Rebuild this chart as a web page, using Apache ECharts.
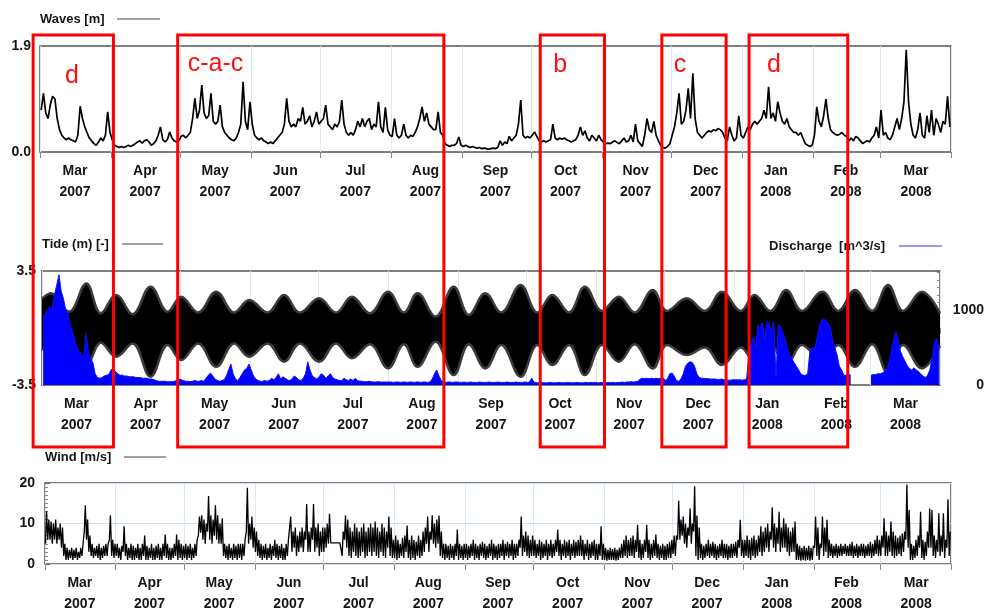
<!DOCTYPE html>
<html>
<head>
<meta charset="utf-8">
<script src="https://cdn.jsdelivr.net/npm/echarts@6/dist/echarts.min.js"></script>
<style>
html, body { margin: 0; padding: 0; background: #fff; }
#chart { width: 987px; height: 615px; }
</style>
</head>
<body>
<div id="chart"></div>
<script>
// Month labels along the time axes (Mar 2007 .. Mar 2008)
const monthNames = ['Mar', 'Apr', 'May', 'Jun', 'Jul', 'Aug', 'Sep', 'Oct', 'Nov', 'Dec', 'Jan', 'Feb', 'Mar'];
const monthYears = ['2007', '2007', '2007', '2007', '2007', '2007', '2007', '2007', '2007', '2007', '2008', '2008', '2008'];

// Daily significant wave height [m], 1 Mar 2007 .. 31 Mar 2008 (one row per month)
const waves = [
  0.75,1.05,0.7,0.6,0.85,1.0,0.95,0.6,0.4,0.3,0.25,0.22,0.25,0.22,0.2,0.18,0.3,0.82,0.6,0.45,0.35,0.25,0.2,0.15,0.12,0.18,0.25,0.2,0.3,0.72,0.35,
  0.22,0.12,0.1,0.08,0.1,0.08,0.1,0.12,0.1,0.12,0.15,0.18,0.2,0.16,0.2,0.22,0.18,0.12,0.15,0.2,0.3,0.45,0.22,0.18,0.22,0.36,0.25,0.2,0.18,0.2,
  0.28,0.3,0.25,0.3,0.35,0.6,0.96,0.6,0.75,1.2,0.7,0.6,0.65,1.05,0.55,0.5,0.55,0.84,0.45,0.35,0.3,0.25,0.22,0.2,0.25,0.35,0.5,1.26,0.55,0.4,0.9,
  0.5,0.3,0.25,0.22,0.25,0.2,0.18,0.15,0.18,0.15,0.2,0.25,0.3,0.35,0.5,0.96,0.55,0.45,0.5,0.45,0.6,0.55,0.8,0.5,0.55,0.65,0.45,0.55,0.72,0.5,
  0.55,0.6,0.84,0.5,0.45,0.4,0.5,0.45,0.55,0.93,0.5,0.35,0.3,0.35,0.3,0.4,0.55,0.45,0.6,0.45,0.55,0.6,0.4,0.5,0.45,0.9,0.45,0.35,0.8,0.4,0.3,
  0.28,0.6,0.3,0.25,0.3,0.5,0.3,0.25,0.3,0.28,0.35,0.45,0.6,0.81,0.55,0.7,0.5,0.45,0.4,0.4,0.72,0.35,0.3,0.15,0.12,0.1,0.12,0.12,0.15,0.27,0.12,
  0.1,0.12,0.1,0.08,0.1,0.08,0.07,0.08,0.06,0.07,0.06,0.05,0.06,0.07,0.06,0.08,0.2,0.12,0.18,0.15,0.28,0.2,0.25,0.3,0.5,0.93,0.3,0.25,0.28,0.25,
  0.3,0.36,0.28,0.2,0.18,0.2,0.18,0.2,0.22,0.5,0.25,0.22,0.25,0.23,0.25,0.22,0.2,0.18,0.2,0.22,0.3,0.45,0.3,0.38,0.25,0.2,0.3,0.25,0.2,0.3,0.22,
  0.18,0.15,0.16,0.15,0.18,0.2,0.17,0.15,0.2,0.25,0.18,0.2,0.3,0.18,0.5,0.2,0.15,0.1,0.3,0.6,0.4,0.35,0.55,0.3,0.2,0.12,0.08,0.07,0.1,0.15,
  0.3,0.45,0.7,1.05,0.5,0.55,0.75,1.14,0.6,1.41,0.6,0.35,0.3,0.25,0.3,0.35,0.38,0.36,0.4,0.38,0.42,0.4,0.35,0.25,0.2,0.45,0.3,0.2,0.25,0.65,0.3,
  0.25,0.35,0.45,0.4,0.5,0.55,0.5,0.55,0.6,0.75,0.6,1.17,0.6,0.7,0.55,0.9,0.7,0.55,0.5,0.6,0.45,0.4,0.35,0.35,0.3,0.35,0.25,0.15,0.12,0.1,0.12,
  0.3,0.81,0.55,0.45,0.65,0.95,0.6,0.4,0.35,0.32,0.3,0.32,0.35,0.3,0.28,0.2,0.25,0.2,0.28,0.25,0.2,0.15,0.18,0.2,0.18,0.25,0.3,0.45,0.25,
  0.75,0.3,0.35,0.25,0.22,0.3,0.45,0.6,0.4,0.6,0.9,1.83,0.9,0.5,0.3,0.25,0.4,0.7,0.3,0.25,0.65,0.35,0.75,0.3,0.6,0.5,0.35,0.55,0.5,1.0,0.45
];

// Daily river discharge [m^3/s]; null = no record
const discharge = [
  900,950,1000,1050,1000,1200,1330,1470,1250,1150,1000,950,800,700,600,500,450,400,380,690,450,350,300,150,100,90,100,120,130,140,200,
  220,180,150,130,130,120,120,110,110,110,100,100,100,90,90,90,80,80,70,60,50,50,50,50,45,45,45,50,60,80,
  70,60,50,50,45,50,60,50,50,60,50,90,130,160,120,80,60,50,60,70,120,200,280,150,80,60,100,150,200,220,280,
  200,120,80,60,50,50,60,50,60,90,70,100,150,80,110,90,70,60,80,120,100,70,60,90,150,310,200,120,100,80,
  110,150,130,90,120,150,100,80,70,60,60,90,70,60,80,60,90,60,50,50,45,45,50,45,40,40,45,40,40,40,40,
  40,40,35,40,40,35,40,40,35,40,40,35,40,40,35,40,40,35,40,80,150,200,120,60,40,35,40,40,35,40,40,
  35,35,40,35,35,40,35,35,35,40,35,35,35,40,35,35,35,40,35,35,35,40,35,35,35,40,35,35,35,40,
  35,40,90,40,30,30,35,30,30,30,35,30,30,30,35,30,30,30,35,30,30,30,35,30,30,30,35,30,35,30,35,
  30,30,35,30,30,35,30,35,30,35,35,40,35,40,40,45,40,45,50,80,90,85,90,85,90,85,90,85,90,100,
  60,80,150,160,120,60,50,80,150,250,290,310,300,250,150,100,90,90,85,85,80,80,80,75,75,80,70,70,65,65,70,
  70,70,70,65,70,80,400,550,650,500,800,750,840,600,850,820,700,850,100,800,780,700,600,500,400,350,300,250,200,150,130,
  130,150,450,500,480,600,750,860,880,860,820,780,600,500,400,250,200,130,130,150,130,null,null,null,null,null,null,null,null,
  130,140,140,150,150,160,180,220,300,450,600,710,600,450,380,320,260,220,200,230,200,180,150,120,100,130,200,350,550,620,500
];

// Tide envelope: turning points of the spring-neap cycle (days after 1 Mar 2007), high and low water [m]
const tideDay = [0,4,12,19.6,26,32.8,40,48,55.6,61.5,69,77,85,91.6,99.7,107,114,122.5,130,137,
  145,153,160,166,174,182,188.7,196,203,211.6,219,225.6,233,240,247.6,255,262,270,276.3,285,
  293,300.6,309,315,322,329,336,345,352,359.4,367,374,380.7,389,397];
const tideHigh = [1.8,2.13,1.0,2.74,0.9,2.03,0.85,2.54,1.0,1.92,0.95,2.23,0.95,1.72,0.95,2.03,0.95,1.82,0.95,1.92,
  0.9,2.23,0.95,2.13,0.7,2.54,0.8,2.13,0.95,2.64,0.95,2.03,0.95,2.54,1.05,1.92,0.95,2.33,1.05,1.82,
  1.05,2.23,1.05,2.03,1.05,2.33,1.05,2.23,1.05,2.33,1.05,2.64,1.05,2.23,0.9];
const tideLow = [-1.25,-1.6,-0.9,-2.27,-0.9,-1.76,-0.95,-2.99,-1.05,-1.97,-0.95,-2.38,-0.95,-1.76,-0.95,-2.07,-0.95,-2.07,-0.95,-1.86,
  -1.0,-2.48,-1.0,-2.38,-0.85,-2.89,-1.0,-2.48,-1.05,-2.99,-1.05,-2.27,-1.05,-2.89,-1.05,-2.07,-1.0,-2.48,-1.05,-1.66,
  -1.2,-2.27,-1.2,-2.07,-1.05,-2.27,-1.05,-2.07,-1.05,-2.38,-1.0,-2.78,-1.05,-2.48,-1.1];

// Daily wind speed range [m/s]: lowest and highest value of each day
const windLow = [
  5,6,6,5,6,5,6,4,2,1,1,1.5,1,1.5,1,1.5,2,8,6,3,2,1.5,2,1.5,1,1.5,2,2,6,2,1.5,
  2,1.5,1,3,2,1,1.5,1,1,1.5,1,1,2,1,1,1.5,1,1,1.5,1,1,2,1.5,1,1,1.5,2,1,1.5,1,
  1.5,1,1.5,1,1.5,2,7,7.7,6,5,8,6,5,7,6,5,5,2,1.5,1,1.5,1,1.5,1,1.5,1,2,8,5,6,4,
  3,2,1.5,1,1.5,1,1.5,1,2,1.5,1,1.5,1,1,2,6,3,4,2,3,4,3,6,3,3,6,3,4,2,3,
  3,4,5,5.2,5.2,5.2,5.2,5.2,2,6,4,2,1.5,3,2,1.5,2,3,1.5,2,3,2,3,2,1.5,3,2,1.5,4,2,1.5,
  1.5,1,1.5,2,1.5,3,1.5,1,1.5,1,2,1.5,2,3,5,3,6,5,4,5,2,1.5,1,1.5,1,1.5,1,2,1,1.5,1,
  1.5,1,1.5,2,1,1.5,1,2,1.5,1,1.5,2,1,1.5,1,1.5,2,1,2,1.5,2,1,1.5,2,4,2,3,2,1.5,2,
  2,1.5,2,1,1.5,2,1,2,1.5,2,3,2,1,2,1.5,2,1,2,1.5,2,2,2,1,2,1,1.5,2,1,1,2,1,
  1,0.8,1,1,1,0.8,1,1.5,1.5,2,1.5,2,2,1.5,3,1.5,1,1.5,3,1.5,1,1.5,2,1.5,1,1.5,1,1,1.5,1.5,
  2.5,2,6,6,7,5,4,7,5,8,2,1,1.5,1,1.5,2,1.5,2,1.5,1,1.5,2,1.5,1.5,1,1.5,1.5,2,1.5,4,2,
  1.5,2,1.5,1,2,1.5,2,3,2,3,4,3,6,4,3,5,3,4,4,3,2,3,3,1,1,0.8,1,0.8,1,0.8,1,
  4,2,1,4,2,3,1.5,2,1.5,2,1.5,2,2,2.5,2,2,2,1.5,2,1.5,2,2,1.5,2,2,1.5,2,2.5,2,
  2,4,2,2,3,2,1.5,2,2.5,2,3,6,4,1,1,1.5,2,4,1.5,1,2,4,4,2,1.5,3,2,3,1.5,4,2
];
const windHigh = [
  13,11,10.5,10,11,9,10,9,5,4,3.5,4,3.5,4,3,4,5,14.5,11,7,5,4,4.5,5,4,4.5,5,5,12,6,5,
  5,4,4.5,9.3,5,4,5,4.5,4,5,4,5,7,4.5,4,5,4,4.5,5,4,5,7.3,5,4,4,5,7.3,6,5,4.5,
  5,4.5,5,4,5,6,11.7,12,11,10,16.8,12,11,14.5,12,10,11.3,5,4.5,5,4,5,4.5,5,5,5,6,18.8,10,11.7,9,
  8,6,5,4.5,5,4,5,4.5,6,5,4.5,5,4,5,6,11.7,8,9,7,8,9,8,14.8,8,9,14.8,9,10,8,9,
  9,10,12.4,5.2,5.2,5.2,5.2,5.2,8,12,11,9,8,10,9,8,9,10,8,9,10,9,10.5,9,8,10,9,8,11.7,9,6,
  7,6,5,6.5,7,9.5,6,7,6,5.5,7,6,8,9,11.7,8,12,10,11,12,8,5,5,4.5,5,4.5,5,8.5,5,4.5,5,
  5,4.5,5,6,5,4.5,5,5.5,5,4.5,5,6,5,4.5,5,5,6,5,5.5,5,6,5,5,6,11.7,7,8,7,6,7,
  6,5,6,5.5,5,6,5,6,5,6,8.5,6,5,6,5.5,6,5,6,5.5,6,7,6,5,6,5,5.5,6,5,5,9.3,5,
  4,3.5,4,3.7,4,3.5,4,5,6,7,6,6.5,7,6,9.7,6,5,6,9.7,6,5,6,7.3,5,4.5,5,4.5,5,5.5,6,
  7,7,15.6,11,11.7,10,9,13.7,10,19.2,12,9,5,4.5,5,6,5,5.5,5,4.5,5,6,5,5,4.5,5,5,5.5,6,10.9,6,
  6,7,6,6.5,7,6,7,9.3,8,9,10,8,14,10,9,12.9,9,11.3,10,9,8,9,10.5,5,4.5,4,4.5,4,4.5,4,4.5,
  11.7,9,5,11.7,9,10.9,6,5,4.5,5,4.5,5,4.5,5,4.5,5,5.5,4.5,5,4.5,5,5,4.5,5,5.5,5,6,7,6,
  7,11.3,8,7,10.5,8,7,6.5,7,7.5,8,19.6,13.3,5,4.5,6,7,12.9,6,5.5,8,13.7,13.3,7,6,12.5,7,12.5,6,16,8
];

// Highlighted periods (regime labels)
const periodNames = ['d', 'c-a-c', 'b', 'c', 'd'];
const periodStart = ['2007-02-26', '2007-04-30', '2007-10-05', '2007-11-27', '2008-01-04'];
const periodEnd = ['2007-04-02', '2007-08-24', '2007-11-02', '2007-12-25', '2008-02-16'];

// ---------------------------------------------------------------------------
const DAY = 86400000;
const T0 = new Date(2007, 2, 1).getTime();
const T_END = new Date(2008, 3, 1).getTime();
const FONT = "'Liberation Sans', Arial, Helvetica, sans-serif";

[waves, discharge, windLow, windHigh].forEach(function (a) {
  if (a.length !== 397) throw new Error('daily series length ' + a.length);
});

function dayTime(i, hour) { return new Date(2007, 2, 1 + i, hour).getTime(); }
function parseDate(s) { const p = s.split('-').map(Number); return new Date(p[0], p[1] - 1, p[2]).getTime(); }

const waveData = waves.map((v, i) => [dayTime(i, 12), v]);
const dischargeData = discharge.map((v, i) => [dayTime(i, 12), v === null ? '-' : v]);
const windData = [];
windLow.forEach((lo, i) => {
  windData.push([dayTime(i, 5), lo]);
  windData.push([dayTime(i, 16), windHigh[i]]);
});
const tideHighData = tideDay.map((d, i) => [T0 + d * DAY, tideHigh[i]]);
const tideLowData = tideDay.map((d, i) => [T0 + d * DAY, tideLow[i]]);

const grids = [
  { left: 40, top: 46, width: 911, height: 106 },
  { left: 42, top: 271, width: 900, height: 114 },
  { left: 45, top: 483, width: 906, height: 84 }
];
const monthLabels = monthNames.map((m, i) => m + '\n' + monthYears[i]);
const labelStyle = { fontFamily: FONT, fontSize: 14, fontWeight: 'bold', color: '#151515' };

const chart = echarts.init(document.getElementById('chart'), null, { renderer: 'canvas' });

const timeAxes = grids.map((g, i) => ({
  type: 'time', gridIndex: i, min: T0, max: T_END,
  minInterval: 28 * DAY, maxInterval: 31 * DAY, splitNumber: 13,
  axisLine: { show: false },
  axisLabel: { show: false },
  axisTick: { show: true, length: 6, lineStyle: { color: '#888', width: 1 } },
  splitLine: { show: true, lineStyle: { color: '#d9e7f6', width: 1 } }
}));
const labelAxes = grids.map((g, i) => ({
  type: 'category', gridIndex: i, data: monthLabels, position: 'bottom',
  axisLine: { show: false }, axisTick: { show: false }, splitLine: { show: false },
  axisLabel: Object.assign({ interval: 0, margin: 9, lineHeight: 21 }, labelStyle)
}));

const option = {
  animation: false,
  backgroundColor: '#fff',
  grid: grids.map(g => Object.assign({ show: true, borderColor: '#555', borderWidth: 1.5, backgroundColor: 'transparent' }, g)),
  xAxis: timeAxes.concat(labelAxes),
  yAxis: [
    { gridIndex: 0, min: 0, max: 1.9, interval: 1.9,
      axisLabel: Object.assign({ margin: 9, formatter: v => v.toFixed(1) }, labelStyle),
      axisLine: { show: false }, axisTick: { show: false }, splitLine: { show: false } },
    { gridIndex: 1, min: -3.5, max: 3.5, interval: 3.5,
      axisLabel: Object.assign({ margin: 6, formatter: v => (v === 0 ? '' : v.toFixed(1)) }, labelStyle),
      axisLine: { show: false }, axisTick: { show: false }, splitLine: { show: false } },
    { gridIndex: 1, position: 'right', min: 0, max: 1520, interval: 1000,
      axisLabel: Object.assign({ margin: 44, align: 'right', formatter: v => (v === 0 || v === 1000 ? String(v) : '') }, labelStyle),
      axisLine: { show: false },
      axisTick: { show: true, inside: true, length: 5, lineStyle: { color: '#666' } },
      minorTick: { show: true, splitNumber: 10, length: 3, lineStyle: { color: '#888' } },
      splitLine: { show: false } },
    { gridIndex: 2, min: 0, max: 20, interval: 10,
      axisLabel: Object.assign({ margin: 10 }, labelStyle),
      axisLine: { show: false },
      axisTick: { show: true, inside: true, length: 5, lineStyle: { color: '#666' } },
      minorTick: { show: true, splitNumber: 10, length: 3, lineStyle: { color: '#888' } },
      splitLine: { show: true, lineStyle: { color: '#cfe0f3', width: 1 } } }
  ],
  series: [
    { name: 'Waves', type: 'line', xAxisIndex: 0, yAxisIndex: 0, data: waveData,
      symbol: 'none', lineStyle: { color: '#000', width: 1.7 }, z: 3 },
    { name: 'Tide high', type: 'line', xAxisIndex: 1, yAxisIndex: 1, data: tideHighData,
      symbol: 'none', smooth: 0.4, lineStyle: { color: '#3c3c3c', width: 2.5 },
      areaStyle: { color: '#000', opacity: 1 }, z: 2 },
    { name: 'Tide low', type: 'line', xAxisIndex: 1, yAxisIndex: 1, data: tideLowData,
      symbol: 'none', smooth: 0.4, lineStyle: { color: '#3c3c3c', width: 2.5 },
      areaStyle: { color: '#000', opacity: 1 }, z: 2 },
    { name: 'Discharge', type: 'line', xAxisIndex: 1, yAxisIndex: 2, data: dischargeData,
      symbol: 'none', lineStyle: { color: '#1010ff', width: 1 },
      areaStyle: { color: '#0000ff', opacity: 1 }, z: 4 },
    { name: 'Wind', type: 'line', xAxisIndex: 2, yAxisIndex: 3, data: windData,
      symbol: 'none', lineStyle: { color: '#000', width: 1.3 }, z: 3 }
  ]
};
chart.setOption(option);

// Panel titles with their legend strokes, plus the highlighted periods
const titleFont = 'bold 13px ' + FONT;
const elements = [
  { type: 'text', x: 40, y: 19, style: { text: 'Waves [m]', font: titleFont, fill: '#151515', verticalAlign: 'middle' } },
  { type: 'line', shape: { x1: 117, y1: 19, x2: 160, y2: 19 }, style: { stroke: '#444', lineWidth: 1 } },
  { type: 'text', x: 42, y: 244, style: { text: 'Tide (m) [-]', font: titleFont, fill: '#151515', verticalAlign: 'middle' } },
  { type: 'line', shape: { x1: 122, y1: 244, x2: 163, y2: 244 }, style: { stroke: '#444', lineWidth: 1 } },
  { type: 'text', x: 769, y: 246, style: { text: 'Discharge  [m^3/s]', font: titleFont, fill: '#151515', verticalAlign: 'middle' } },
  { type: 'line', shape: { x1: 899, y1: 246, x2: 942, y2: 246 }, style: { stroke: '#3030ff', lineWidth: 1.2 } },
  { type: 'text', x: 45, y: 457, style: { text: 'Wind [m/s]', font: titleFont, fill: '#151515', verticalAlign: 'middle' } },
  { type: 'line', shape: { x1: 124, y1: 457, x2: 166, y2: 457 }, style: { stroke: '#444', lineWidth: 1 } }
];
const boxTop = 35, boxBottom = 447;
const labelDx = [32, 10, 13, 12, 18];
const labelY = [76, 64, 65, 65, 65];
periodNames.forEach((name, i) => {
  const xa = chart.convertToPixel({ xAxisIndex: 0 }, parseDate(periodStart[i]));
  const xb = chart.convertToPixel({ xAxisIndex: 0 }, parseDate(periodEnd[i]));
  elements.push({ type: 'rect', z: 100, shape: { x: xa, y: boxTop, width: xb - xa, height: boxBottom - boxTop },
    style: { fill: 'none', stroke: '#ff0000', lineWidth: 3 } });
  elements.push({ type: 'text', z: 101, x: xa + labelDx[i], y: labelY[i],
    style: { text: name, font: '25px ' + FONT, fill: '#ff1010', verticalAlign: 'middle' } });
});
chart.setOption({ graphic: { elements: elements } });
</script>
</body>
</html>
